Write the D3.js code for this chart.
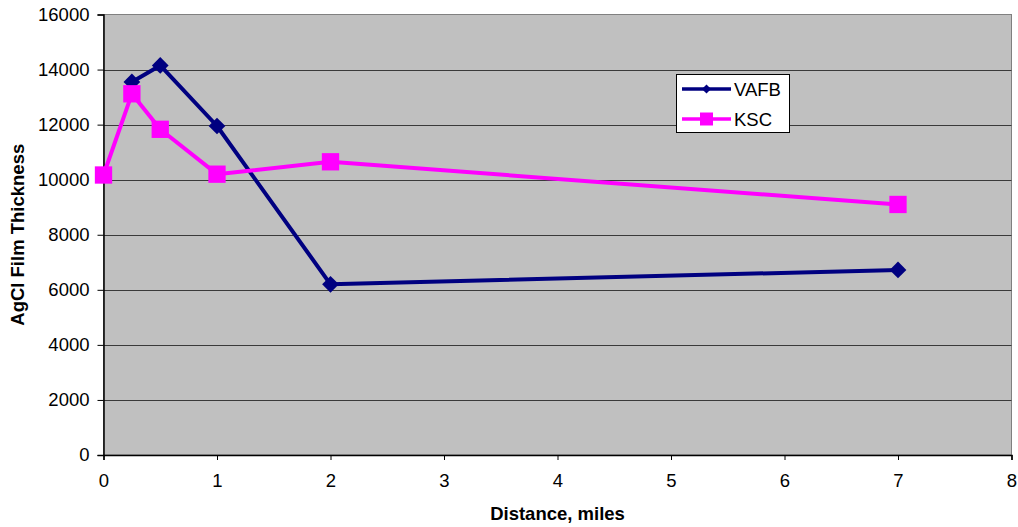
<!DOCTYPE html>
<html>
<head>
<meta charset="utf-8">
<script src="https://cdn.jsdelivr.net/npm/d3@7"></script>
<style>
  html, body { margin: 0; padding: 0; background: #fff; }
  svg { display: block; font-family: Arial, "Liberation Sans", sans-serif; }
</style>
</head>
<body>
<svg id="chart" width="1018" height="527"></svg>
<script>
// Distance (miles) vs AgCl film thickness at two sites
const vafbX = [0.25, 0.5, 1, 2, 7];
const vafbY = [13550, 14150, 11950, 6200, 6720];
const kscX = [0, 0.25, 0.5, 1, 2, 7];
const kscY = [10170, 13120, 11830, 10200, 10650, 9100];
const xTicks = [0, 1, 2, 3, 4, 5, 6, 7, 8];
const yTicks = [0, 2000, 4000, 6000, 8000, 10000, 12000, 14000, 16000];
const seriesNames = ["VAFB", "KSC"];

const svg = d3.select("#chart");
const plotLeft = 103.5, plotRight = 1011.5, plotTop = 14.5, plotBottom = 455;
const fontFamily = "Arial, 'Liberation Sans', sans-serif";

const x = d3.scaleLinear().domain([0, 8]).range([plotLeft, plotRight]);
const y = d3.scaleLinear().domain([0, 16000]).range([plotBottom, plotTop]);

// plot area
svg.append("rect")
  .attr("x", plotLeft).attr("y", plotTop)
  .attr("width", plotRight - plotLeft).attr("height", plotBottom - plotTop)
  .attr("fill", "#c0c0c0").attr("stroke", "#808080").attr("stroke-width", 1);

// horizontal gridlines
svg.append("g").selectAll("line")
  .data(yTicks.filter(d => d > 0 && d < 16000))
  .join("line")
  .attr("x1", plotLeft).attr("x2", plotRight)
  .attr("y1", d => Math.round(y(d)) + 0.5).attr("y2", d => Math.round(y(d)) + 0.5)
  .attr("stroke", "#3a3a3a").attr("stroke-width", 1);

// y axis
const yAxis = d3.axisLeft(y).tickValues(yTicks).tickSize(6).tickPadding(8).tickFormat(d3.format("d"));
const gy = svg.append("g").attr("transform", `translate(${plotLeft},0)`).call(yAxis);
gy.select(".domain").attr("stroke", "#000").attr("stroke-width", 1.5);
gy.selectAll(".tick line").attr("stroke", "#000");
gy.selectAll(".tick text").attr("font-size", 18.5).attr("fill", "#000")
  .attr("font-family", fontFamily);

// x axis
const xAxis = d3.axisBottom(x).tickValues(xTicks).tickSize(5).tickPadding(14).tickFormat(d3.format("d"));
const gx = svg.append("g").attr("transform", `translate(0,${plotBottom})`).call(xAxis);
gx.select(".domain").attr("stroke", "#000").attr("stroke-width", 1.5);
gx.selectAll(".tick line").attr("stroke", "#000");
gx.selectAll(".tick text").attr("font-size", 18.5).attr("fill", "#000")
  .attr("font-family", fontFamily);

// axis titles
svg.append("text")
  .attr("x", x(4)).attr("y", 520)
  .attr("text-anchor", "middle")
  .attr("font-size", 18.5).attr("font-weight", "bold")
  .text("Distance, miles");

svg.append("text")
  .attr("transform", `translate(23.5,${(plotTop + plotBottom) / 2}) rotate(-90)`)
  .attr("text-anchor", "middle")
  .attr("font-size", 18.5).attr("font-weight", "bold")
  .text("AgCl Film Thickness");

const line = d3.line().x(d => x(d[0])).y(d => y(d[1]));
const vafb = vafbX.map((v, i) => [v, vafbY[i]]);
const ksc = kscX.map((v, i) => [v, kscY[i]]);

const navy = "#000080", magenta = "#ff00ff";

// VAFB series: line with diamond markers
svg.append("path").datum(vafb).attr("d", line)
  .attr("fill", "none").attr("stroke", navy).attr("stroke-width", 4).attr("stroke-linejoin", "round");
svg.append("g").selectAll("path").data(vafb).join("path")
  .attr("transform", d => `translate(${x(d[0])},${y(d[1])}) rotate(45)`)
  .attr("d", d3.symbol().type(d3.symbolSquare).size(140)())
  .attr("fill", navy);

// KSC series: line with square markers
svg.append("path").datum(ksc).attr("d", line)
  .attr("fill", "none").attr("stroke", magenta).attr("stroke-width", 4).attr("stroke-linejoin", "round");
svg.append("g").selectAll("path").data(ksc).join("path")
  .attr("transform", d => `translate(${x(d[0])},${y(d[1])})`)
  .attr("d", d3.symbol().type(d3.symbolSquare).size(300)())
  .attr("fill", magenta);

// legend
const lg = svg.append("g");
lg.append("rect").attr("x", 676.5).attr("y", 74.5).attr("width", 113).attr("height", 58)
  .attr("fill", "#fff").attr("stroke", "#000").attr("stroke-width", 1);
const colors = [navy, magenta];
seriesNames.forEach((name, i) => {
  const cy = 89 + i * 30;
  lg.append("line").attr("x1", 682).attr("x2", 731).attr("y1", cy).attr("y2", cy)
    .attr("stroke", colors[i]).attr("stroke-width", 3.5);
  if (i === 0) {
    lg.append("path").attr("transform", `translate(706.5,${cy}) rotate(45)`)
      .attr("d", d3.symbol().type(d3.symbolSquare).size(42)()).attr("fill", navy);
  } else {
    lg.append("path").attr("transform", `translate(706.5,${cy})`)
      .attr("d", d3.symbol().type(d3.symbolSquare).size(169)()).attr("fill", magenta);
  }
  lg.append("text").attr("x", 734).attr("y", cy + 7)
    .attr("font-size", 18.5).attr("fill", "#000").attr("font-family", fontFamily).text(name);
});
</script>
</body>
</html>
